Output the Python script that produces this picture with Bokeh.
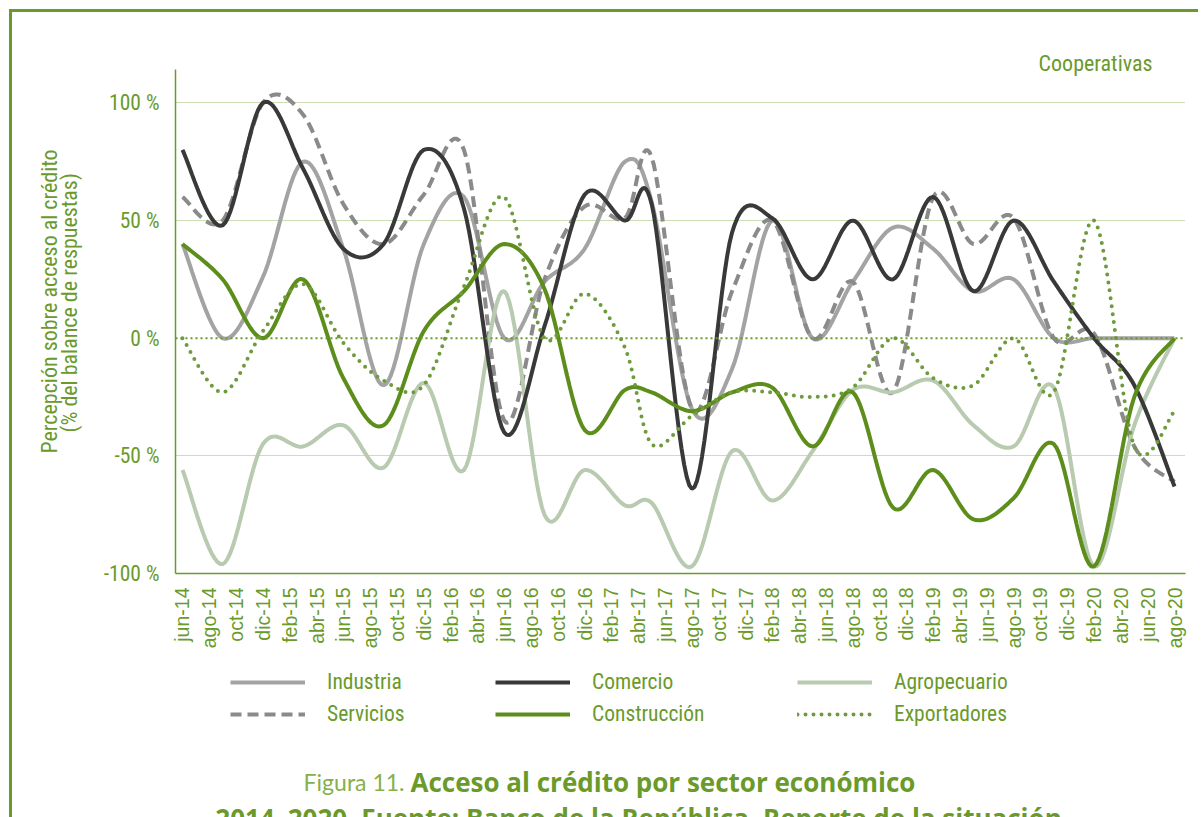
import numpy as np
from math import pi
from bokeh.plotting import figure
from bokeh.layouts import column
from bokeh.models import Range1d, FixedTicker, Span, Label, Legend, LegendItem, Title
from bokeh.embed import file_html
from bokeh.resources import INLINE

# ---------------- data ----------------
tick_labels = ["jun-14", "ago-14", "oct-14", "dic-14", "feb-15", "abr-15", "jun-15", "ago-15",
               "oct-15", "dic-15", "feb-16", "abr-16", "jun-16", "ago-16", "oct-16", "dic-16",
               "feb-17", "abr-17", "jun-17", "ago-17", "oct-17", "dic-17", "feb-18", "abr-18",
               "jun-18", "ago-18", "oct-18", "dic-18", "feb-19", "abr-19", "jun-19", "ago-19",
               "oct-19", "dic-19", "feb-20", "abr-20", "jun-20", "ago-20"]

fechas = ["jun-14", "sep-14", "dic-14", "mar-15", "jun-15", "sep-15", "dic-15", "mar-16",
          "jun-16", "sep-16", "dic-16", "mar-17", "may-17", "ago-17", "nov-17", "feb-18",
          "may-18", "ago-18", "nov-18", "feb-19", "may-19", "ago-19", "nov-19", "feb-20",
          "may-20", "ago-20"]

industria = [40, 0, 26, 75, 38, -20, 40, 60, 0, 24, 38, 75, 58, -30, -13, 50,
             0, 24, 47, 38, 20, 25, 0, 0, 0, 0]
comercio = [80, 48, 100, 72, 38, 40, 80, 55, -40, 5, 61, 50, 57, -64, 45, 51,
            25, 50, 25, 60, 20, 50, 24, 0, -20, -63]
agropecuario = [-56, -96, -45, -46, -37, -55, -19, -56, 20, -75, -56, -71, -70, -97, -48, -69,
                -48, -22, -23, -18, -37, -46, -21, -97, -37, 0]
servicios = [60, 50, 100, 95, 57, 40, 61, 80, -35, 25, 56, 51, 77, -30, 20, 50,
             0, 24, -23, 60, 40, 51, 0, 2, -46, -61]
construccion = [40, 25, 0, 25, -17, -37, 3, 20, 40, 21, -39, -22, -23, -31, -23, -21,
                -46, -23, -72, -56, -77, -68, -45, -97, -25, 0]
exportadores = [0, -23, 3, 23, -2, -18, -20, 22, 60, 0, 19, -4, -45, -33, -23, -23,
                -25, -21, 0, -17, -20, 0, -23, 50, -46, -31]

y_ticks = [-100, -50, 0, 50, 100]
y_tick_labels = ["-100 %", "-50 %", "0 %", "50 %", "100 %"]

# ---------------- helpers ----------------
MESES = {"ene": 1, "feb": 2, "mar": 3, "abr": 4, "may": 5, "jun": 6, "jul": 7,
         "ago": 8, "sep": 9, "oct": 10, "nov": 11, "dic": 12}


def mes(s):
    m, y = s.split("-")
    return (int(y) - 14) * 12 + MESES[m] - 6


xs = [mes(f) for f in fechas]
tick_pos = [mes(t) for t in tick_labels]


def suavizar(xv, yv, n=16, kx=13.4, ky=2.353):
    # Excel-like smoothed line (Catmull-Rom bezier) for display only
    P = np.column_stack([np.array(xv, float) * kx, np.array(yv, float) * ky])
    P = np.vstack([P[0], P, P[-1]])
    out = [P[1]]
    t = np.linspace(0, 1, n + 1)[1:, None]
    for i in range(1, len(P) - 2):
        p0, p1, p2, p3 = P[i - 1], P[i], P[i + 1], P[i + 2]
        c1 = p1 + (p2 - p0) / 6.0
        c2 = p2 - (p3 - p1) / 6.0
        b = (1 - t) ** 3 * p1 + 3 * (1 - t) ** 2 * t * c1 + 3 * (1 - t) * t ** 2 * c2 + t ** 3 * p2
        out.extend(b)
    out = np.array(out)
    return out[:, 0] / kx, out[:, 1] / ky


GREEN = "#6a9a2a"
COND = "Roboto Condensed, Roboto"
W_FIG = 1186

styles = {
    "Industria": dict(line_color="#a3a3a3", line_width=4),
    "Servicios": dict(line_color="#8a8a8a", line_width=4, line_dash="11 6"),
    "Agropecuario": dict(line_color="#b8cab0", line_width=4),
    "Comercio": dict(line_color="#393939", line_width=4),
    "Construcción": dict(line_color="#5d8e1c", line_width=4),
    "Exportadores": dict(line_color="#6f9b3e", line_width=4, line_dash="0 8", line_cap="round"),
}
valores = {"Industria": industria, "Servicios": servicios, "Agropecuario": agropecuario,
           "Comercio": comercio, "Construcción": construccion, "Exportadores": exportadores}

# ---------------- main chart ----------------
p = figure(width=W_FIG, height=648, x_range=Range1d(-0.52, 74.82), y_range=Range1d(-100, 114.2),
           output_backend="svg", toolbar_location=None,
           min_border_left=163, min_border_right=13, min_border_top=57, min_border_bottom=87)
p.outline_line_color = None
p.background_fill_color = "white"
p.border_fill_color = "white"

xa = p.xaxis[0]
xa.ticker = FixedTicker(ticks=tick_pos)
xa.major_label_overrides = {t: l for t, l in zip(tick_pos, tick_labels)}
xa.major_label_orientation = pi / 2
xa.major_label_text_font = "Liberation Sans"
xa.major_label_text_font_size = "19.5px"
xa.major_label_text_color = GREEN
xa.major_label_standoff = 8
xa.axis_line_color = GREEN
xa.axis_line_width = 1.5
xa.major_tick_line_color = None
xa.minor_tick_line_color = None

ya = p.yaxis[0]
ya.ticker = FixedTicker(ticks=y_ticks)
ya.major_label_overrides = {t: l for t, l in zip(y_ticks, y_tick_labels)}
ya.major_label_text_font = COND
ya.major_label_text_font_size = "21.5px"
ya.major_label_text_color = GREEN
ya.major_label_standoff = 10
ya.axis_line_color = GREEN
ya.axis_line_width = 1.5
ya.major_tick_line_color = None
ya.minor_tick_line_color = None

p.xgrid.grid_line_color = None
p.ygrid.ticker = FixedTicker(ticks=[-50, 50, 100])
p.ygrid.grid_line_color = "#9cbc68"
p.ygrid.grid_line_width = 1
p.ygrid.grid_line_dash = "1 1"
p.add_layout(Span(location=0, dimension="width", line_color=GREEN, line_width=2, line_dash="2 3"))

for nombre in ["Industria", "Servicios", "Agropecuario", "Comercio", "Construcción", "Exportadores"]:
    sx, sy = suavizar(xs, valores[nombre])
    p.line(sx, sy, **styles[nombre])

# y-axis title (two lines) and panel title
p.add_layout(Title(text="(% del balance de respuestas)", align="left", offset=141, standoff=38,
                   text_font=COND, text_font_size="22px", text_font_style="normal",
                   text_color=GREEN), "left")
p.add_layout(Title(text="Percepción sobre acceso al crédito", align="left", offset=120, standoff=-52,
                   text_font=COND, text_font_size="22px", text_font_style="normal",
                   text_color=GREEN), "left")
p.add_layout(Title(text="Cooperativas", align="right", offset=33, standoff=-13,
                   text_font=COND, text_font_size="22px", text_font_style="normal",
                   text_color=GREEN), "above")

# ---------------- legend + caption ----------------
H2 = 157
q = figure(width=W_FIG, height=H2, x_range=Range1d(0, 1010), y_range=Range1d(H2, 0),
           output_backend="svg", toolbar_location=None,
           min_border_left=163, min_border_right=13, min_border_top=0, min_border_bottom=0,
           x_axis_location=None, y_axis_location=None)
q.outline_line_color = None
q.xgrid.grid_line_color = None
q.ygrid.grid_line_color = None

muestras = {n: q.line(np.array([np.nan]), np.array([np.nan]), **styles[n]) for n in styles}
cols = [("Industria", "Servicios", 55), ("Comercio", "Construcción", 320),
        ("Agropecuario", "Exportadores", 622)]
for a, b, lx in cols:
    lg = Legend(items=[LegendItem(label=a, renderers=[muestras[a]]),
                       LegendItem(label=b, renderers=[muestras[b]])],
                location=(lx, 91), orientation="vertical",
                glyph_width=75, glyph_height=20, label_height=20, label_standoff=22,
                spacing=7, padding=0, margin=0,
                label_text_font=COND, label_text_font_size="21.5px", label_text_color=GREEN,
                border_line_color=None, background_fill_alpha=0)
    q.add_layout(lg)

q.add_layout(Label(x=229, y=121, text="Figura 11.",
                   text_font="Lato", text_font_size="23px", text_color="#86b04a",
                   text_align="right", text_baseline="middle"))
q.add_layout(Label(x=235, y=121, text="Acceso al crédito por sector económico",
                   text_font="Open Sans", text_font_style="bold", text_font_size="26px",
                   text_color=GREEN, text_align="left", text_baseline="middle"))
q.add_layout(Label(x=463, y=157, text="2014–2020. Fuente: Banco de la República, Reporte de la situación",
                   text_font="Open Sans", text_font_style="bold", text_font_size="26px",
                   text_color=GREEN, text_align="center", text_baseline="middle"))

layout = column(p, q, spacing=0,
                styles={"border-top": "3px solid #6a9a2a", "border-left": "3px solid #6a9a2a",
                        "margin-left": "9px", "margin-top": "9px"})

open("out.html", "w").write(file_html(layout, INLINE))
